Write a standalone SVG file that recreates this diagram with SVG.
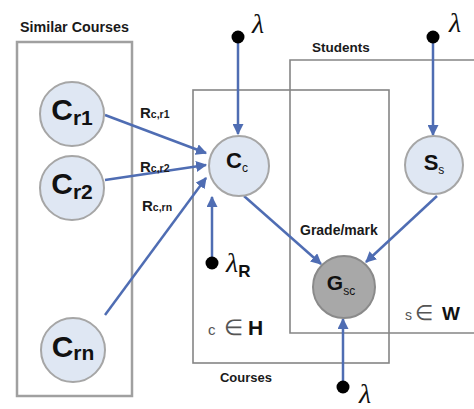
<svg xmlns="http://www.w3.org/2000/svg" width="474" height="409" viewBox="0 0 474 409">
<style>
.lbl{font-family:"Liberation Sans",Arial,sans-serif;font-weight:bold;fill:#1a1a1a}
.node{fill:#dfe7f3;stroke:#a6a6a6;stroke-width:2}
.gnode{fill:#a8a8a8;stroke:#8a8a8a;stroke-width:2}
.plate{fill:none;stroke:#858585;stroke-width:1.6}
.edge{stroke:#4f6db3;stroke-width:2.5;fill:none}
.lam{font-family:"Liberation Serif","Times New Roman",serif;font-style:italic;font-size:28px;fill:#111}
.big{font-family:"Liberation Sans",Arial,sans-serif;font-weight:bold;fill:#111}
.gray{font-family:"Liberation Sans",Arial,sans-serif;fill:#555}
</style>
<defs>
<marker id="ah" viewBox="0 0 10 10" refX="9" refY="5" markerWidth="4.4" markerHeight="4.4" markerUnits="strokeWidth" orient="auto">
<path d="M0,0 L10,5 L0,10 z" fill="#4f6db3"/>
</marker>
</defs>
<rect width="474" height="409" fill="#ffffff"/>

<g id="plates">
<rect x="17" y="42" width="115" height="354" fill="none" stroke="#a0a0a0" stroke-width="2.5"/>
<text class="lbl" x="20" y="32" font-size="14.3">Similar Courses</text>
<rect class="plate" x="193" y="90" width="196" height="273"/>
<text class="lbl" x="246" y="382" font-size="13" text-anchor="middle">Courses</text>
<path class="plate" d="M476,60 H290 V333 H476"/>
<text class="lbl" x="341" y="52" font-size="13.5" text-anchor="middle">Students</text>
<text class="gray" x="208" y="335" font-size="15">c</text>
<text class="gray" x="224" y="335" font-size="22">∈</text>
<text class="big" x="248" y="335" font-size="21">H</text>
<text class="gray" x="405" y="320" font-size="14">s</text>
<text class="gray" x="415" y="320" font-size="21">∈</text>
<text class="big" x="442" y="320" font-size="19">W</text>
</g>

<g id="connectors">
<line class="edge" x1="105" y1="115" x2="206" y2="153" marker-end="url(#ah)"/>
<line class="edge" x1="105" y1="180" x2="206" y2="165" marker-end="url(#ah)"/>
<line class="edge" x1="105" y1="315" x2="206" y2="178" marker-end="url(#ah)"/>
<line class="edge" x1="238" y1="40" x2="238" y2="134" marker-end="url(#ah)"/>
<line class="edge" x1="433" y1="40" x2="433" y2="135" marker-end="url(#ah)"/>
<line class="edge" x1="212" y1="260" x2="212" y2="197" marker-end="url(#ah)"/>
<line class="edge" x1="244" y1="196" x2="321" y2="264" marker-end="url(#ah)"/>
<line class="edge" x1="437" y1="196" x2="366" y2="262" marker-end="url(#ah)"/>
<line class="edge" x1="343" y1="384" x2="343" y2="319" marker-end="url(#ah)"/>
<text class="lbl" x="140" y="118" font-size="15">R<tspan font-size="10.5">c,r1</tspan></text>
<text class="lbl" x="140" y="172" font-size="15">R<tspan font-size="10.5">c,r2</tspan></text>
<text class="lbl" x="142" y="211" font-size="15">R<tspan font-size="10.5">c,rn</tspan></text>
<text class="lbl" x="300" y="235" font-size="14">Grade/mark</text>
</g>

<g id="Cr1">
<circle class="node" cx="72" cy="114" r="32"/>
<text class="big" x="72" y="120" font-size="30" text-anchor="middle">C<tspan font-size="21" dy="5">r1</tspan></text>
</g>
<g id="Cr2">
<circle class="node" cx="72" cy="188" r="32"/>
<text class="big" x="72" y="194" font-size="30" text-anchor="middle">C<tspan font-size="21" dy="5">r2</tspan></text>
</g>
<g id="Crn">
<circle class="node" cx="73" cy="350" r="32"/>
<text class="big" x="73" y="357" font-size="30" text-anchor="middle">C<tspan font-size="21" dy="3">rn</tspan></text>
</g>
<g id="Cc">
<circle class="node" cx="239" cy="166" r="30"/>
<text class="big" x="237" y="168" font-size="22" text-anchor="middle">C<tspan font-size="12" font-weight="normal" dy="4">c</tspan></text>
</g>
<g id="Ss">
<circle class="node" cx="434" cy="165" r="29"/>
<text class="big" x="434" y="170" font-size="22" text-anchor="middle">S<tspan font-size="12" font-weight="normal" dy="4">s</tspan></text>
</g>
<g id="Gsc">
<circle class="gnode" cx="344" cy="287" r="31"/>
<text class="big" x="341" y="290" font-size="21" text-anchor="middle">G<tspan font-size="12" font-weight="normal" dy="5">sc</tspan></text>
</g>
<g id="lambda_c">
<circle cx="238" cy="37" r="6.5" fill="#000"/>
<text class="lam" x="252" y="33">λ</text>
</g>
<g id="lambda_s">
<circle cx="433" cy="37" r="6.5" fill="#000"/>
<text class="lam" x="449" y="32">λ</text>
</g>
<g id="lambda_R">
<circle cx="212" cy="263" r="6.5" fill="#000"/>
<text class="lam" x="226" y="272">λ<tspan font-family="Liberation Sans,Arial,sans-serif" font-style="normal" font-weight="bold" font-size="17" dy="5">R</tspan></text>
</g>
<g id="lambda_g">
<circle cx="343" cy="387" r="6.5" fill="#000"/>
<text class="lam" x="359" y="403">λ</text>
</g>
</svg>
